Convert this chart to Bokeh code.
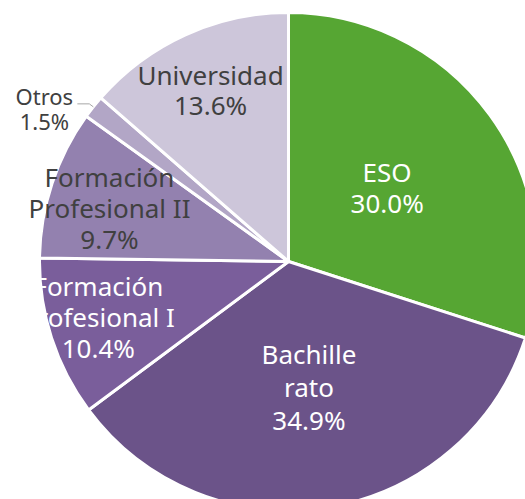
import numpy as np
from bokeh.plotting import figure
from bokeh.models import Range1d, Label, ColumnDataSource, BoxAnnotation
from bokeh.core.properties import value
from bokeh.embed import file_html
from bokeh.resources import INLINE

# ---- data ----
categories = ["ESO", "Bachillerato", "Formación Profesional I",
              "Formación Profesional II", "Otros", "Universidad"]
shares = [30.0, 34.9, 10.4, 9.7, 1.5, 13.6]
label_lines = [["ESO"], ["Bachille", "rato"], ["Formación", "Profesional I"],
               ["Formación", "Profesional II"], ["Otros"], ["Universidad"]]

# ---- style / layout ----
colors = ["#56a633", "#6b5389", "#7a5e9b", "#9381af", "#b2a6c6", "#cdc6da"]
text_colors = ["white", "white", "white", "#404040", "#404040", "#404040"]
label_r = [0.49, 0.505, 0.79, 0.757, None, 0.756]
nudge_px = [(0, -2), (0, 1), (-3, -5), (0, 6), (0, 0), (0, 0)]   # (right, down)
line_px = [31, 33, 31, 31, 25, 30]
PX = 1 / 249.0           # one screen pixel in data units (radius = 249 px)
FONT = "Noto Sans"

vals = np.array(shares, dtype=float)
frac = vals / vals.sum()
cum = np.concatenate([[0], np.cumsum(frac)])
start = np.pi / 2 - 2 * np.pi * cum[:-1]
end = np.pi / 2 - 2 * np.pi * cum[1:]
mid = (start + end) / 2

src = ColumnDataSource(dict(cat=categories, start=start, end=end, color=colors))

p = figure(width=525, height=499,
           x_range=Range1d(-288 * PX, 237 * PX),
           y_range=Range1d(-238 * PX, 261 * PX),
           x_axis_location=None, y_axis_location=None,
           output_backend="svg", toolbar_location=None,
           min_border_left=0, min_border_right=0,
           min_border_top=0, min_border_bottom=0)
p.grid.visible = False
p.outline_line_color = None
p.background_fill_color = "white"
p.border_fill_color = "white"

p.wedge(x=0, y=0, radius=1, start_angle="start", end_angle="end",
        direction="clock", fill_color="color", line_color="white",
        line_width=3, source=src)

# in-slice labels
xs, ys, ts, cs = [], [], [], []
for i, r in enumerate(label_r):
    if r is None:
        continue
    lines = label_lines[i] + [f"{shares[i]:.1f}%"]
    cx = r * np.cos(mid[i]) + nudge_px[i][0] * PX
    cy = r * np.sin(mid[i]) - nudge_px[i][1] * PX
    n = len(lines)
    for j, t in enumerate(lines):
        xs.append(cx)
        ys.append(cy - (j - (n - 1) / 2) * line_px[i] * PX)
        ts.append(t)
        cs.append(text_colors[i])
lsrc = ColumnDataSource(dict(x=xs, y=ys, t=ts, c=cs))
p.text(x="x", y="y", text="t", text_color="c", source=lsrc,
       text_align="center", text_baseline="middle",
       text_font=value(FONT), text_font_size="26px")

# the reference clips the left part of the "Formación Profesional I" label
p.add_layout(BoxAnnotation(left=-288 * PX, right=-249 * PX,
                           top=-9 * PX, bottom=-90 * PX,
                           fill_color="white", fill_alpha=1.0,
                           line_alpha=0))

# "Otros" outside label with leader line
k = categories.index("Otros")
ax, ay = np.cos(mid[k]), np.sin(mid[k])
elbow = (ax - 4 * PX, ay + 3 * PX)
tail = (elbow[0] - 12 * PX, elbow[1])
p.line(x=[ax, elbow[0], tail[0]], y=[ay, elbow[1], tail[1]],
       line_color="#a6a6a6", line_width=1)
otros_lines = label_lines[k] + [f"{shares[k]:.1f}%"]
ocx, ocy = ax - 49 * PX, ay - 2 * PX
for j, t in enumerate(otros_lines):
    p.add_layout(Label(x=ocx, y=ocy - (j - 0.5) * line_px[k] * PX, text=t,
                       text_align="center", text_baseline="middle",
                       text_font=FONT, text_font_size="22px",
                       text_color="#404040"))

open("out.html", "w").write(file_html(p, INLINE))
